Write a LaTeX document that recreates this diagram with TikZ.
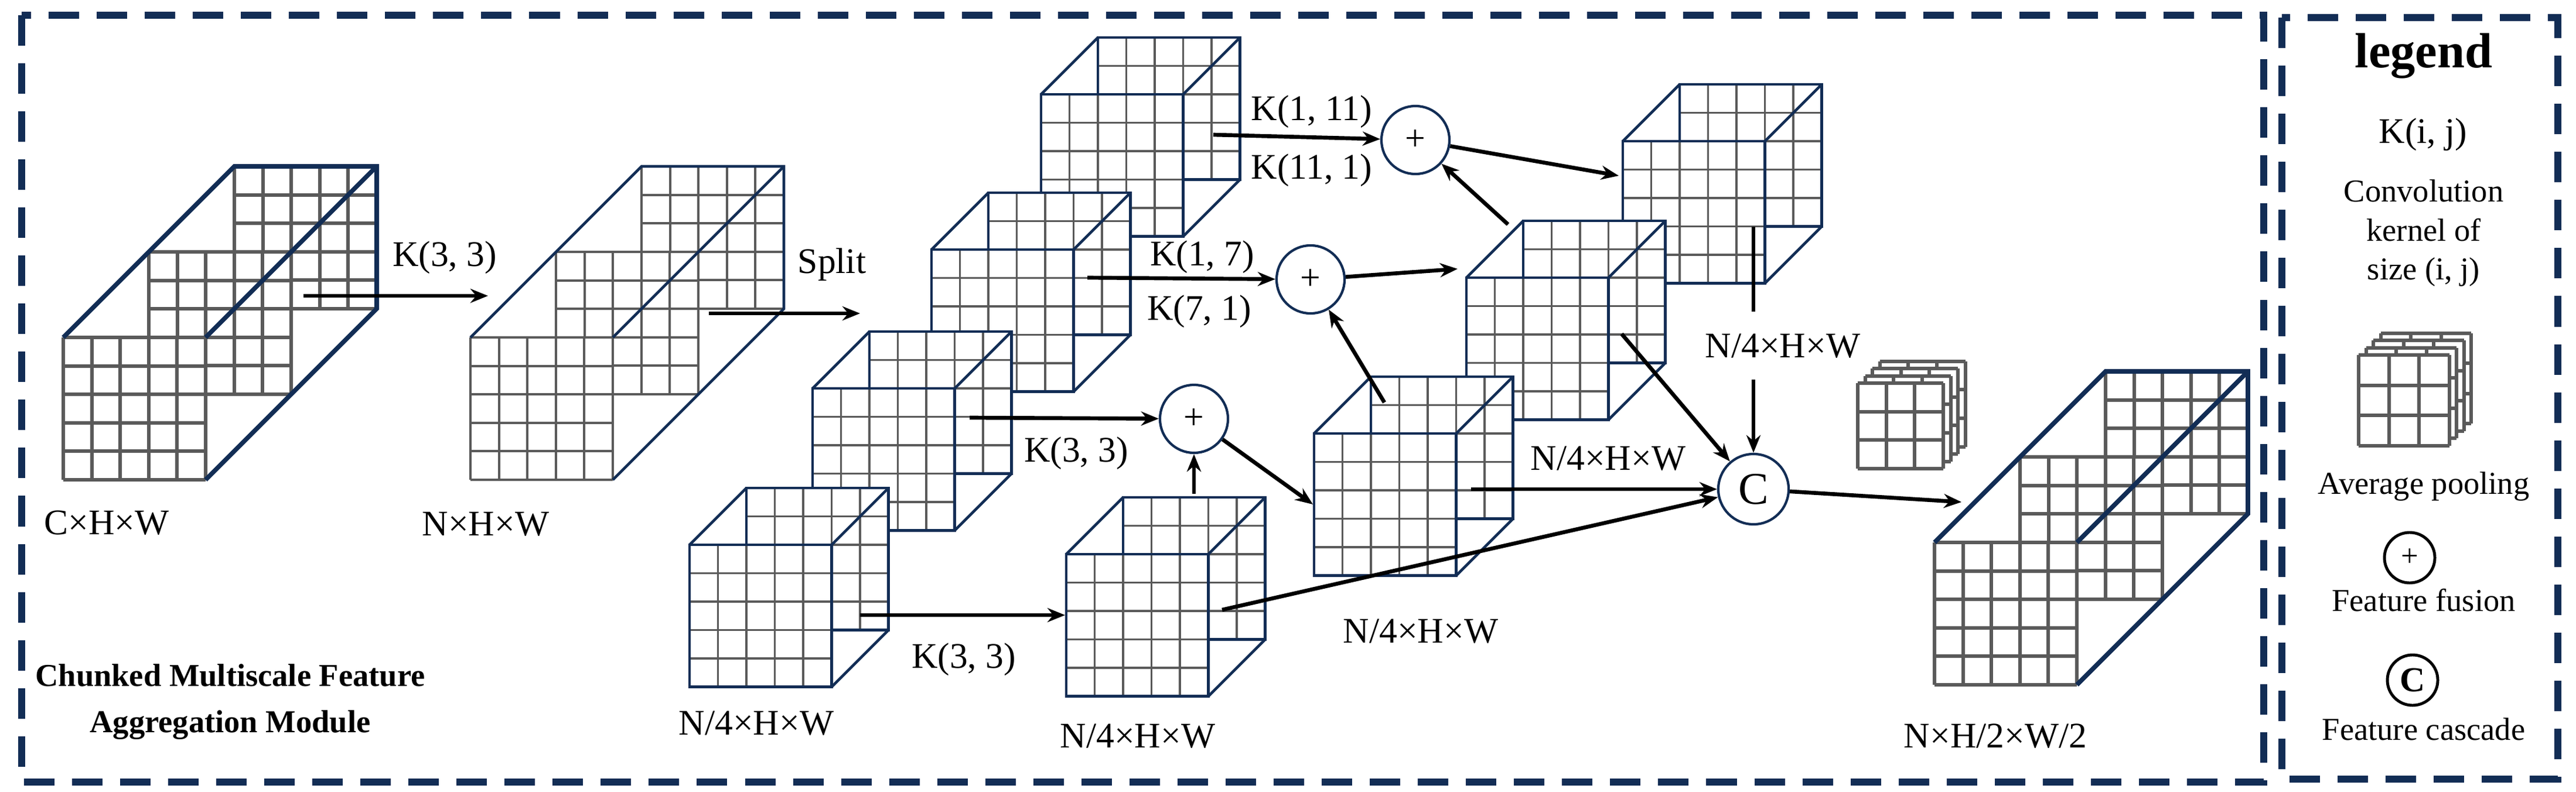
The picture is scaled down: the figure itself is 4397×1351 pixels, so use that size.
\documentclass[tikz,border=0pt]{standalone}
\usepackage{fontspec}
\setmainfont{Liberation Serif}
\usetikzlibrary{arrows.meta,calc}
\definecolor{navy}{RGB}{18,45,85}
\definecolor{gr}{RGB}{90,90,90}
\tikzset{
  gridl/.style={draw=gr,line width=1.1pt},
  gridk/.style={draw=gr,line width=1.7pt},
  edge/.style={draw=navy,line width=1.3pt},
  edgek/.style={draw=navy,line width=2.2pt},
  arr/.style={draw=black,line width=1.9pt,-{Stealth[length=0.3cm,width=0.24cm]}},
  lab/.style={font=\fontsize{17.5}{21}\selectfont,inner sep=0pt},
  circ/.style={circle,draw=navy,line width=1.2pt,fill=white,minimum size=1.16cm,inner sep=0pt,font=\fontsize{17.5}{21}\selectfont},
  lcirc/.style={circle,draw=black,line width=1.4pt,fill=white,minimum size=0.86cm,inner sep=0pt},
  border/.style={draw=navy,line width=3.3pt,dash pattern=on 0.52cm off 0.3cm},
}
% grid: x y n s style
\newcommand\mygrid[5]{%
  \fill[white] (#1,#2) rectangle ++(#3*#4,#3*#4);
  \foreach \i in {0,...,#3}{%
    \draw[#5] (#1+\i*#4,#2) -- ++(0,#3*#4);
    \draw[#5] (#1,#2+\i*#4) -- ++(#3*#4,0);}}
\newcommand\mycube[2]{%
  \mygrid{#1+97}{#2-97}{5}{48.5}{gridl}
  \draw[edge] (#1+97,#2-97) rectangle ++(242.5,242.5);
  \mygrid{#1}{#2}{5}{48.5}{gridl}
  \draw[edge] (#1,#2) rectangle ++(242.5,242.5);
  \draw[edge] (#1,#2) -- ++(97,-97);
  \draw[edge] (#1+242.5,#2) -- ++(97,-97);
  \draw[edge] (#1+242.5,#2+242.5) -- ++(97,-97);}
\newcommand\myslab[4]{% x y gridstyle edgestyle
  \mygrid{#1+292}{#2-292}{5}{48.6}{#3}
  \mygrid{#1+146}{#2-146}{5}{48.6}{#3}
  \mygrid{#1}{#2}{5}{48.6}{#3}
  \draw[#4] (#1,#2) -- (#1+292,#2-292) -- (#1+535,#2-292) -- (#1+535,#2-49) -- (#1+243,#2+243);
  \draw[#4] (#1+243,#2) -- (#1+535,#2-292);}
\newcommand\mypool[4]{% x y cell offset
  \foreach \k in {3,2,1,0}{\mygrid{#1+\k*#4}{#2-\k*#4}{3}{#3}{gridk}}}
\begin{document}
\begin{tikzpicture}[x=0.01cm,y=-0.01cm]
\useasboundingbox (0,0) rectangle (4397,1351);
% borders
\draw[border] (37,26) rectangle (3864,1335);
\draw[border] (3895,30) rectangle (4366,1330);
% slabs
\myslab{108}{576}{gridk}{edgek}
\myslab{803}{576}{gridl}{edge}
\myslab{3302}{926}{gridk}{edgek}
% cubes (top first)
\mycube{1777}{161}
\mycube{1590}{426}
\mycube{1387}{663}
\mycube{1177}{930}
\mycube{1820}{946}
\mycube{2770}{241}
\mycube{2503}{474}
\mycube{2243}{740}
% pooling icon
\mypool{3171}{654}{48.7}{12.5}
% circles
\node[circ] (c1) at (2038,715) {+};
\node[circ] (c2) at (2237,477) {+};
\node[circ] (c3) at (2416,239) {+};
\node[circ,minimum size=1.2cm,font=\fontsize{22}{24}\selectfont] (cc) at (2993,835) {C};
% coordinates
\coordinate (a1s) at (518,505); \coordinate (a1e) at (833,505);
\coordinate (a2s) at (1210,535); \coordinate (a2e) at (1468,535);
\coordinate (a3s) at (1468,1050); \coordinate (a3e) at (1818,1050);
\coordinate (a4s) at (2038,843);
\coordinate (a5s) at (1655,713);
\coordinate (a6e) at (2241,861);
\coordinate (a7s) at (1856,474);
\coordinate (a8s) at (2363,687);
\coordinate (a9e) at (2488,459);
\coordinate (a10s) at (2071,230);
\coordinate (a11s) at (2574,383);
\coordinate (a12e) at (2763,300);
\coordinate (a13s) at (2993,387); \coordinate (a13m) at (2993,532); \coordinate (a13n) at (2993,648);
\coordinate (a14s) at (2768,570);
\coordinate (a15s) at (2511,835);
\coordinate (a16s) at (2086,1041);
\coordinate (a17e) at (3348,857);
% arrows
\draw[arr] (a1s) -- (a1e);
\draw[arr] (a2s) -- (a2e);
\draw[arr] (a3s) -- (a3e);
\draw[arr] (a4s) -- (c1);
\draw[arr] (a5s) -- (c1);
\draw[arr] (c1) -- (a6e);
\draw[arr] (a7s) -- (c2);
\draw[arr] (a8s) -- (c2);
\draw[arr] (c2) -- (a9e);
\draw[arr] (a10s) -- (c3);
\draw[arr] (a11s) -- (c3);
\draw[arr] (c3) -- (a12e);
\draw[line width=1.9pt] (a13s) -- (a13m);
\draw[arr] (a13n) -- (cc);
\draw[arr] (a14s) -- (cc);
\draw[arr] (a15s) -- (cc);
\draw[arr] (a16s) -- (cc);
\draw[arr] (cc) -- (a17e);
% labels
\node[lab] (l1) at (759,440) {K(3, 3)};
\node[lab] (l2) at (1420,452) {Split};
\node[lab] (l3) at (1645,1126) {K(3, 3)};
\node[lab] (l4) at (1837,774) {K(3, 3)};
\node[lab] (l5) at (2052,439) {K(1, 7)};
\node[lab] (l6) at (2047,532) {K(7, 1)};
\node[lab] (l7) at (2239,191) {K(1, 11)};
\node[lab] (l8) at (2239,291) {K(11, 1)};
\node[lab] (l9) at (3043,591) {N/4×H×W};
\node[lab] (l10) at (2745,783) {N/4×H×W};
\node[lab] (l11) at (182,893) {C×H×W};
\node[lab] (l12) at (829,895) {N×H×W};
\node[lab] (l13) at (1291,1235) {N/4×H×W};
\node[lab] (l14) at (1942,1257) {N/4×H×W};
\node[lab] (l15) at (2425,1078) {N/4×H×W};
\node[lab] (l16) at (3406,1257) {N×H/2×W/2};
\node[font=\bfseries\fontsize{15.5}{22.5}\selectfont,align=center] (title) at (393,1198) {Chunked Multiscale Feature\\Aggregation Module};
% legend
\node[font=\bfseries\fontsize{24}{26}\selectfont] (lg) at (4137,96) {legend};
\node[lab] (lk) at (4136,230) {K(i, j)};
\node[font=\fontsize{15.5}{19}\selectfont,align=center] (lkd) at (4137,398) {Convolution\\kernel of\\size (i, j)};
\mypool{4026}{606}{51.5}{12.5}
\node[font=\fontsize{15.5}{19}\selectfont] (lap) at (4137,830) {Average pooling};
\node[lcirc,font=\fontsize{15}{17}\selectfont] (lff) at (4113,952) {+};
\node[font=\fontsize{15.5}{19}\selectfont] (lfft) at (4137,1025) {Feature fusion};
\node[lcirc,font=\bfseries\fontsize{17}{19}\selectfont] (lfc) at (4118,1161) {C};
\node[font=\fontsize{15.5}{19}\selectfont] (lfct) at (4137,1245) {Feature cascade};
\end{tikzpicture}
\end{document}
